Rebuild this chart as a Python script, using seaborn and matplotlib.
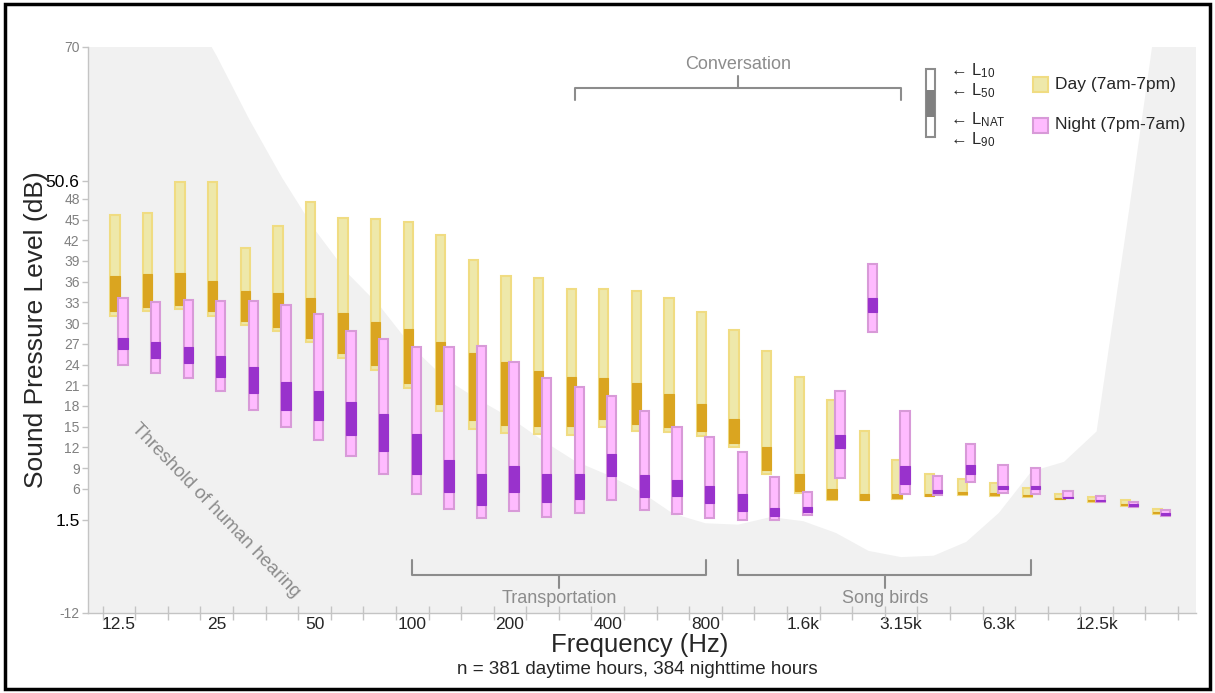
import numpy as np
import matplotlib
matplotlib.use("Agg")
import matplotlib.pyplot as plt
from matplotlib.patches import Rectangle
import seaborn as sns

# =====================================
# DATA (one-third octave bands, dB)
# =====================================

bands = ['12.5', '16', '20', '25', '31.5', '40', '50', '63', '80', '100',
         '125', '160', '200', '250', '315', '400', '500', '630', '800', '1k',
         '1.25k', '1.6k', '2k', '2.5k', '3.15k', '4k', '5k', '6.3k', '8k',
         '10k', '12.5k', '16k', '20k']

day_l10 = [45.6, 46.0, 50.5, 50.4, 40.9, 44.1, 47.5, 45.2, 45.1, 44.6, 42.7,
           39.1, 36.8, 36.6, 34.9, 34.9, 34.6, 33.7, 31.6, 29.0, 26.0, 22.2,
           18.8, 14.4, 10.1, 8.1, 7.4, 6.9, 6.1, 5.3, 4.85, 4.3, 3.1]
day_l50 = [36.8, 37.1, 37.3, 36.1, 34.6, 34.3, 33.6, 31.4, 30.1, 29.1, 27.2,
           25.7, 24.4, 23.1, 22.2, 22.1, 21.3, 19.8, 18.3, 16.1, 12.0, 8.2,
           6.0, 5.3, 5.25, 5.3, 5.5, 5.4, 5.15, 4.7, 4.4, 3.8, 2.65]
day_lnat = [31.75, 32.3, 32.6, 31.75, 30.3, 29.5, 27.9, 25.6, 24.0, 21.3,
            18.3, 15.9, 15.2, 15.1, 15.1, 16.1, 15.4, 14.9, 14.4, 12.6, 8.7,
            5.7, 4.5, 4.3, 4.6, 4.95, 5.2, 5.1, 4.95, 4.55, 4.2, 3.65, 2.45]
day_l90 = [31.0, 31.75, 32.0, 31.0, 29.7, 28.8, 27.2, 25.0, 23.2, 20.6, 17.2,
           14.65, 14.1, 14.0, 13.8, 14.9, 14.4, 14.2, 13.7, 12.0, 8.1, 5.4,
           4.4, 4.3, 4.5, 4.9, 5.1, 5.0, 4.85, 4.45, 4.1, 3.5, 2.35]

night_l10 = [33.7, 33.1, 33.4, 33.2, 33.2, 32.6, 31.3, 28.9, 27.7, 26.5, 26.6,
             26.7, 24.3, 22.1, 20.8, 19.4, 17.3, 14.9, 13.55, 11.3, 7.75, 5.6,
             20.2, 38.5, 17.3, 7.85, 12.5, 9.4, 8.95, 5.7, 4.95, 4.1, 2.85]
night_l50 = [27.9, 27.2, 26.6, 25.2, 23.6, 21.5, 20.2, 18.5, 16.8, 13.9, 10.2,
             8.2, 9.3, 8.2, 8.1, 11.0, 8.0, 7.2, 6.4, 5.3, 3.2, 3.4, 13.8,
             33.6, 9.3, 5.8, 9.4, 6.4, 6.45, 4.85, 4.4, 3.75, 2.45]
night_lnat = [26.2, 25.0, 24.2, 22.2, 19.9, 17.4, 16.0, 13.8, 11.4, 8.2, 5.6,
              3.65, 5.5, 4.1, 4.5, 7.9, 4.8, 5.0, 4.0, 2.8, 2.05, 2.7, 11.9,
              31.6, 6.7, 5.4, 8.2, 5.9, 5.9, 4.7, 4.2, 3.55, 2.25]
night_l90 = [23.9, 22.8, 22.0, 20.1, 17.4, 14.9, 13.0, 10.7, 8.2, 5.3, 3.0,
             1.8, 2.8, 1.96, 2.5, 4.3, 2.9, 2.4, 1.7, 1.5, 1.5, 2.2, 7.5, 28.7,
             5.2, 5.1, 7.0, 5.4, 5.3, 4.6, 4.1, 3.3, 2.05]

# threshold of human hearing per band
threshold = [90, 85, 77, 68.7, 59.5, 51.1, 43.6, 37.3, 32.5, 26.5, 22.0, 19.0,
             16.3, 13.0, 10.0, 8.0, 5.6, 2.4, 1.0, 0.8, 1.9, 1.3, -0.4, -3.0,
             -3.9, -3.7, -1.7, 2.5, 8.5, 9.9, 14.3, 46.5, 80]

y_ticks = [-12, 1.5, 6, 9, 12, 15, 18, 21, 24, 27, 30, 33, 36, 39, 42, 45, 48,
           50.6, 70]

# (label, first band, last band)
groups_below = [('Transportation', 9, 18), ('Song birds', 19, 28)]
group_above = ('Conversation', 14, 24)

# =====================================
# FIGURE
# =====================================

W, H = 1215, 693

sns.set_style("white")
plt.rcParams['font.family'] = ['Liberation Sans', 'DejaVu Sans']
plt.rcParams['mathtext.fontset'] = 'custom'
plt.rcParams['mathtext.rm'] = 'Liberation Sans'
plt.rcParams['mathtext.it'] = 'Liberation Sans:italic'


def fx(px):
    return px / W


def fy(py):
    return 1 - py / H


fig = plt.figure(figsize=(12.15, 6.93), dpi=100)
ax = fig.add_axes([fx(88), fy(613), (1196 - 88) / W, (613 - 47) / H])

idx = np.arange(len(bands))
x_lo, x_hi = -0.95, 33.05

# threshold shading
ax.fill_between(np.r_[x_lo, idx, x_hi], -12,
                np.r_[threshold[0], threshold, threshold[-1]],
                color='#f1f1f1', lw=0, zorder=0)


def range_bars(pos, lo, hi, face, edge, lw):
    lo = np.asarray(lo)
    hi = np.asarray(hi)
    sns.barplot(x=pos, y=hi - lo, bottom=lo, native_scale=True,
                width=0.285, color=face, edgecolor=edge, linewidth=lw,
                saturation=1, errorbar=None, ax=ax, zorder=2)


# day bars
range_bars(idx - 0.124, day_l90, day_l10, '#eee8aa', '#f0dc82', 1.5)
range_bars(idx - 0.124, day_lnat, day_l50, '#daa520', '#daa520', 0.8)
# night bars
range_bars(idx + 0.124, night_l90, night_l10, '#ffbbff', '#d89ad8', 1.5)
range_bars(idx + 0.124, night_lnat, night_l50, '#9932cc', '#9932cc', 0.8)

ax.set_xlim(x_lo, x_hi)
ax.set_ylim(-12, 70)
ax.set_xlabel('')
ax.set_ylabel('')

# axes styling
for s in ['top', 'right']:
    ax.spines[s].set_visible(False)
for s in ['left', 'bottom']:
    ax.spines[s].set_color('#c4c4c4')
    ax.spines[s].set_linewidth(1)

ax.set_yticks(y_ticks)
ax.set_yticklabels([f'{t:g}' for t in y_ticks])
for lab, t in zip(ax.get_yticklabels(), y_ticks):
    if t in (1.5, 50.6):
        lab.set_fontsize(12.5)
        lab.set_color('black')
    else:
        lab.set_fontsize(10)
        lab.set_color('#808080')
ax.tick_params(axis='y', length=4, width=1, color='#c4c4c4', pad=2, left=True)

ax.set_xticks(idx[::3])
ax.set_xticklabels(bands[::3], fontsize=12.5)
ax.set_xticks(np.arange(-0.5, len(bands)), minor=True)
ax.tick_params(axis='x', which='major', length=0, pad=3)
ax.tick_params(axis='x', which='minor', length=10, width=1,
               direction='inout', color='#c4c4c4', bottom=True)

# group brackets
bc = '#8c8c8c'
name, a, b = group_above
ax.plot([a, a, b, b], [62.3, 64.1, 64.1, 62.3], color=bc, lw=1.5, zorder=3)
ax.plot([(a + b) / 2] * 2, [64.1, 65.8], color=bc, lw=1.5, zorder=3)
ax.text((a + b) / 2, 67.4, name, ha='center', va='center', fontsize=13,
        color=bc)
for name, a, b in groups_below:
    ax.plot([a, a, b, b], [-4.3, -6.5, -6.5, -4.3], color=bc, lw=1.5,
            zorder=3)
    ax.plot([(a + b) / 2] * 2, [-6.5, -8.4], color=bc, lw=1.5, zorder=3)
    ax.text((a + b) / 2, -9.9, name, ha='center', va='center', fontsize=13,
            color=bc)

fig.text(fx(216), fy(510), 'Threshold of human hearing', rotation=-46,
         rotation_mode='anchor', ha='center', va='center', fontsize=13.5,
         color='#8c8c8c')

# axis titles
fig.text(fx(36), fy(330), 'Sound Pressure Level (dB)', rotation=90,
         ha='center', va='center', fontsize=19)
fig.text(fx(640), fy(645), 'Frequency (Hz)', ha='center', va='center',
         fontsize=18.5)
fig.text(fx(637), fy(669), 'n = 381 daytime hours, 384 nighttime hours',
         ha='center', va='center', fontsize=13.5)

# percentile key
fig.add_artist(Rectangle((fx(926), fy(137)), 9 / W, 68 / H,
                         transform=fig.transFigure, fc='white', ec='#8c8c8c',
                         lw=1.5))
fig.add_artist(Rectangle((fx(926), fy(117)), 9 / W, 27 / H,
                         transform=fig.transFigure, fc='#808080', ec='none'))
for lab, py in [('10', 71), ('50', 91), ('NAT', 120), ('90', 140)]:
    fig.text(fx(950), fy(py), '\u2190 L$_{\\mathrm{' + lab + '}}$',
             ha='left', va='center', fontsize=12)

# day / night legend
for lab, face, edge, py in [('Day (7am-7pm)', '#eee8aa', '#f0dc82', 84),
                            ('Night (7pm-7am)', '#ffbbff', '#d89ad8', 125)]:
    fig.add_artist(Rectangle((fx(1033), fy(py + 8)), 15 / W, 15 / H,
                             transform=fig.transFigure, fc=face, ec=edge,
                             lw=1.5))
    fig.text(fx(1055), fy(py), lab, ha='left', va='center', fontsize=12.5)

# outer frame
fig.add_artist(Rectangle((fx(5), fy(689)), (1210 - 5) / W, (689 - 4) / H,
                         transform=fig.transFigure, fill=False, ec='black',
                         lw=2.5))

fig.savefig("out.png", dpi=100)
plt.close()
